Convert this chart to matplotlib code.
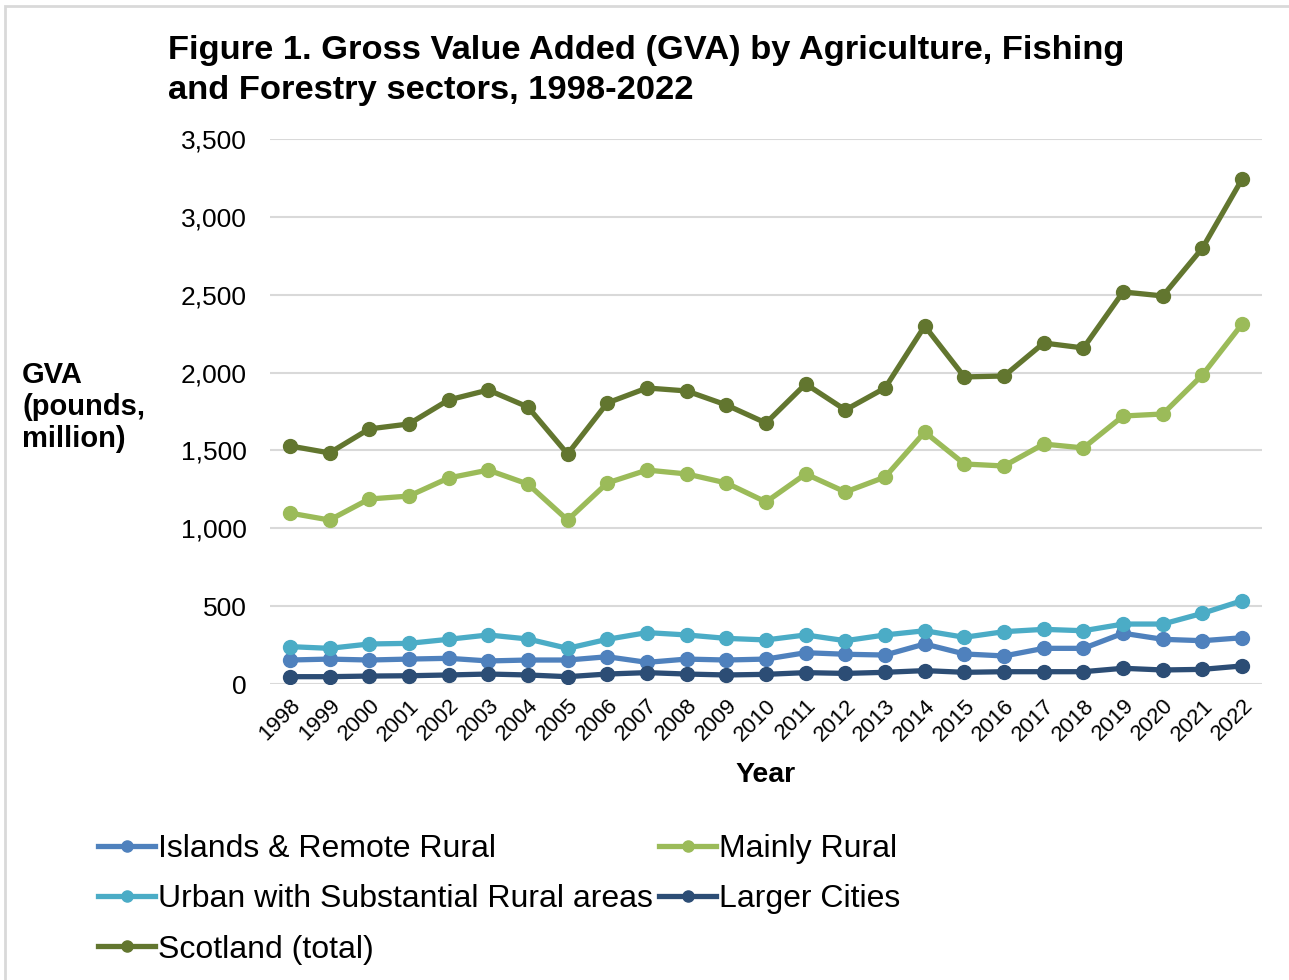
import matplotlib.pyplot as plt
from matplotlib.patches import Rectangle

plt.rcParams['font.family'] = ['Liberation Sans', 'DejaVu Sans']

years = list(range(1998, 2023))

# GVA, pounds million
islands = [154, 160, 154, 160, 165, 148, 154, 154, 175, 139, 160, 154, 160,
           201, 191, 186, 257, 193, 180, 229, 229, 326, 287, 278, 297]
mainly_rural = [1098, 1053, 1188, 1207, 1323, 1374, 1284, 1053, 1291, 1374, 1349, 1291, 1169,
                1349, 1233, 1329, 1618, 1413, 1400, 1541, 1516, 1721, 1734, 1985, 2312]
urban_rural = [240, 229, 257, 261, 287, 315, 289, 229, 287, 330, 315, 293, 283,
               315, 278, 315, 342, 300, 336, 351, 342, 385, 385, 454, 535]
larger_cities = [47, 47, 51, 53, 58, 64, 58, 47, 64, 73, 64, 58, 62,
                 73, 68, 75, 86, 75, 79, 79, 79, 101, 90, 94, 116]
scotland = [1529, 1484, 1638, 1670, 1824, 1888, 1779, 1477, 1805, 1901, 1882, 1792, 1676,
            1927, 1760, 1901, 2299, 1972, 1978, 2190, 2158, 2518, 2492, 2800, 3243]

series = [
    ("Islands & Remote Rural", islands, "#4F81BD"),
    ("Urban with Substantial Rural areas", urban_rural, "#4BACC6"),
    ("Scotland (total)", scotland, "#62762F"),
    ("Mainly Rural", mainly_rural, "#9BBB59"),
    ("Larger Cities", larger_cities, "#2C4D75"),
]

fig = plt.figure(figsize=(12.89, 9.8), dpi=100)
fig.patches.append(Rectangle((5 / 1289, -0.1), 1.2, 1.1 - 6 / 980, transform=fig.transFigure,
                             fill=False, edgecolor="#D9D9D9", linewidth=2))

ax = fig.add_axes([270 / 1289, 1 - 684 / 980, (1262 - 270) / 1289, (684 - 139) / 980])

for name, vals, col in series:
    ax.plot(years, vals, color=col, lw=3.8, marker='o', ms=10, label=name, zorder=3)

ax.set_xlim(1997.5, 2022.5)
ax.set_ylim(0, 3500)
ax.set_yticks(range(0, 3501, 500))
ax.set_yticklabels([f"{v:,}" for v in range(0, 3501, 500)], fontsize=19)
ax.set_xticks(years)
ax.set_xticklabels([str(y) for y in years], rotation=45, ha='right', rotation_mode='anchor',
                   fontsize=16)
ax.tick_params(axis='y', length=0, pad=17)
ax.tick_params(axis='x', length=0, pad=8)
ax.grid(axis='y', color="#D9D9D9", lw=1.5, zorder=0)
for s in ax.spines.values():
    s.set_visible(False)

ax.set_xlabel("Year", fontsize=20.5, fontweight='bold', labelpad=12)

fig.text(168 / 1289, 1 - 50 / 980, "Figure 1. Gross Value Added (GVA) by Agriculture, Fishing",
         fontsize=24.8, fontweight='bold', va='center')
fig.text(168 / 1289, 1 - 90 / 980, "and Forestry sectors, 1998-2022",
         fontsize=24.8, fontweight='bold', va='center')
fig.text(22 / 1289, 1 - 407 / 980, "GVA\n(pounds,\nmillion)", fontsize=21, fontweight='bold',
         va='center', ha='left', linespacing=1.2)

fig.legend(loc='upper left', bbox_to_anchor=(85 / 1289, 1 - 821 / 980), ncol=2, frameon=False,
           fontsize=23, handlelength=1.8, handletextpad=0.07, columnspacing=0.2,
           labelspacing=0.64, borderaxespad=0, markerscale=0.8)

fig.savefig("out.png", dpi=100)
